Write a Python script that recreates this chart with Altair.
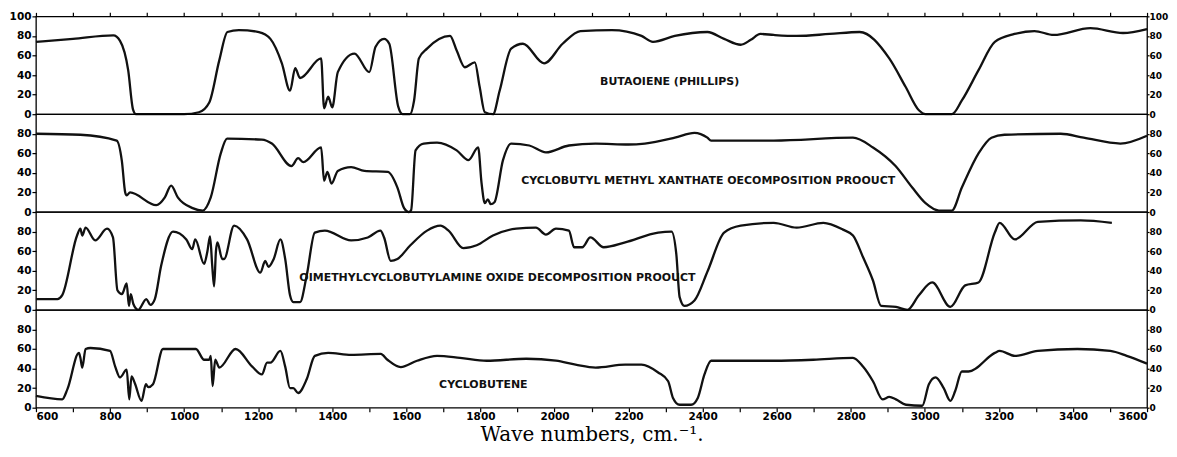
import altair as alt
import pandas as pd

# ---------------- data ----------------
bd_wave = [600, 700, 809, 827, 849, 862, 870, 1000, 1040, 1068, 1095, 1117, 1148, 1202, 1233, 1264,
           1286, 1300, 1313, 1370, 1378, 1389, 1400, 1415, 1460, 1500, 1517, 1540, 1554, 1578, 1590,
           1610, 1621, 1634, 1656, 1718, 1736, 1758, 1785, 1798, 1812, 1834, 1852, 1883, 1915, 1972,
           2022, 2070, 2155, 2235, 2266, 2325, 2413, 2458, 2503, 2530, 2556, 2592, 2654, 2743, 2824,
           2904, 2948, 2984, 3002, 3073, 3100, 3145, 3189, 3242, 3296, 3348, 3447, 3535, 3600]
bd_val = [74, 77, 80.5, 75, 45, 5, 0, 0, 2, 12, 55, 84, 86, 84, 77, 52,
          24, 47, 37, 57, 6, 18, 7, 43, 62, 43, 69, 77, 72, 8, 0,
          0, 14, 57, 67, 80, 65, 48, 53, 28, 2, 0, 24, 67, 72, 52,
          72, 85, 86, 80, 74, 80, 84, 77, 71, 76, 82, 81, 80, 82, 84,
          57, 28, 4, 0, 0, 14, 45, 74, 82, 85, 81, 88, 83, 87]

xa_wave = [600, 720, 818, 832, 841, 845, 854, 925, 948, 965, 983, 1023, 1050, 1072, 1099, 1116,
           1210, 1237, 1290, 1308, 1322, 1370, 1378, 1387, 1398, 1415, 1451, 1487, 1550, 1576, 1594,
           1607, 1613, 1625, 1647, 1683, 1736, 1768, 1794, 1803, 1812, 1820, 1828, 1838, 1861, 1883,
           1932, 1977, 2039, 2111, 2200, 2244, 2325, 2378, 2413, 2423, 2592, 2806, 2860, 2921, 2966,
           3002, 3038, 3073, 3100, 3145, 3180, 3215, 3367, 3429, 3528, 3600]
xa_val = [80, 79, 73, 52, 20, 17, 20, 7, 15, 27, 15, 4, 1.5, 15, 60, 75,
          74, 70, 47, 55, 51, 66, 32, 41, 29, 42, 46, 42, 41, 25, 4,
          0, 2, 63, 70, 71, 63, 53, 66, 30, 9, 13, 8, 10, 53, 70,
          68, 61, 68, 70, 69, 70, 76, 81, 76, 73, 73, 76, 66, 47, 25,
          9, 1.5, 1.5, 25, 60, 76, 79, 80, 76, 70, 78]

dm_wave = [600, 658, 671, 711, 720, 725, 734, 760, 792, 808, 820, 832, 845, 851, 856, 863, 876,
           898, 909, 921, 938, 970, 1006, 1022, 1030, 1054, 1063, 1070, 1076, 1081, 1086, 1090,
           1103, 1108, 1135, 1170, 1206, 1219, 1228, 1242, 1260, 1273, 1286, 1295, 1313, 1331,
           1353, 1380, 1451, 1496, 1530, 1540, 1558, 1576, 1611, 1656, 1692, 1714, 1754, 1790,
           1834, 1897, 1950, 1977, 2004, 2039, 2053, 2075, 2097, 2133, 2191, 2280, 2316, 2329,
           2338, 2351, 2378, 2414, 2458, 2503, 2592, 2654, 2726, 2779, 2806, 2833, 2860, 2882,
           2922, 2953, 2984, 3020, 3069, 3109, 3145, 3189, 3202, 3243, 3305, 3421, 3505]
dm_val = [11, 11, 15, 76, 83, 76, 84, 71, 83, 74, 20, 16, 27, 4, 16, 6, 0,
          11, 5, 11, 45, 80, 72, 62, 72, 47, 60, 75, 45, 24, 60, 69,
          52, 52, 86, 72, 38, 50, 44, 52, 72, 52, 15, 8, 8, 35,
          79, 81, 71, 74, 81, 74, 50, 52, 66, 81, 86, 81, 63, 66,
          76, 83, 84, 77, 83, 81, 64, 64, 74, 64, 69, 79, 80, 57,
          13, 4, 9.5, 40, 79, 86, 89, 84, 89, 82, 76, 54, 30, 4,
          3, 0, 15, 28, 3, 25, 28, 79, 89, 72, 90, 91.5, 89]

cb_wave = [600, 671, 685, 716, 720, 725, 734, 747, 800, 814, 827, 845, 852, 858, 867, 885, 897,
           903, 916, 943, 1032, 1054, 1068, 1072, 1077, 1084, 1095, 1139, 1184, 1210, 1224, 1233,
           1260, 1273, 1286, 1295, 1308, 1331, 1353, 1389, 1451, 1531, 1549, 1585, 1629, 1683,
           1745, 1817, 1924, 2004, 2057, 2111, 2191, 2235, 2280, 2307, 2320, 2338, 2369, 2387,
           2405, 2423, 2503, 2592, 2699, 2806, 2833, 2860, 2886, 2904, 2922, 2949, 2993, 3011,
           3029, 3051, 3069, 3082, 3100, 3118, 3189, 3202, 3243, 3305, 3412, 3501, 3545, 3600]
cb_val = [12, 8.5, 19, 56, 51, 41, 60, 61, 58, 42, 31, 39, 8.5, 32, 25, 7, 24,
          21, 24, 60, 60, 49, 49, 53, 22, 49, 41, 60, 42, 34, 46, 46,
          58, 42, 20, 20, 15, 29, 53, 56, 54, 55, 49, 41.5, 48, 53,
          51, 48, 50, 48, 44, 41, 44, 44, 36, 27, 10, 3, 3, 10,
          34, 48, 48, 48, 49, 51, 42, 27, 8.5, 11, 8.5, 3, 2, 24,
          31, 20, 7, 17, 37, 37, 56, 58, 53, 58, 60, 58, 53, 45]

labels = ["BUTAOIENE (PHILLIPS)",
          "CYCLOBUTYL METHYL XANTHATE OECOMPOSITION PROOUCT",
          "OIMETHYLCYCLOBUTYLAMINE OXIDE DECOMPOSITION PROOUCT",
          "CYCLOBUTENE"]
label_wave = [2311, 2415, 1846, 1808]
label_val = [33, 32, 33, 23]

x_ticks = list(range(600, 3601, 100))
y_ticks_top = [0, 20, 40, 60, 80, 100]
y_ticks = [0, 20, 40, 60, 80]
x_title = "Wave numbers, cm.\u207b\u00b9."

# ---------------- chart ----------------
W = 1113
H = 98
LABEL_FONT = "DejaVu Sans"
xscale = alt.Scale(domain=[600, 3600], nice=False, zero=False)
yscale = alt.Scale(domain=[0, 100], nice=False, zero=True)


def panel(waves, vals, idx, yvals, top=False, bottom=False):
    df = pd.DataFrame({"wave": waves, "T": vals})
    ann = pd.DataFrame({"wave": [label_wave[idx]], "T": [label_val[idx]], "text": [labels[idx]]})

    if bottom:
        xaxis = alt.Axis(orient="bottom", values=x_ticks, format="d",
                         labelExpr="datum.value % 200 == 0 ? datum.label : ''",
                         tickSize=4, tickWidth=1.2, tickColor="black", domain=False, grid=False,
                         labelFont=LABEL_FONT, labelFontWeight="bold", labelFontSize=10.5,
                         labelColor="black", labelPadding=0, labelOverlap=False,
                         title=x_title, titleFont="DejaVu Serif", titleFontSize=20,
                         titleFontWeight="normal", titleColor="black", titlePadding=2)
    else:
        xaxis = None
    if top:
        xaxis_top = alt.Axis(orient="top", values=x_ticks, labels=False, tickSize=4,
                             tickWidth=1.2, tickColor="black", domain=False, grid=False, title=None)
    else:
        xaxis_top = None

    yleft = alt.Axis(orient="left", values=yvals, tickSize=4, tickWidth=1.2, tickColor="black",
                     domain=False, grid=False, labelFont=LABEL_FONT, labelFontWeight="bold",
                     labelFontSize=10.5, labelColor="black", labelPadding=1, title=None,
                     labelOverlap=False)
    yright = alt.Axis(orient="right", values=yvals, tickSize=2, tickWidth=1.2, tickColor="black",
                      domain=False, grid=False, labelFont=LABEL_FONT, labelFontWeight="bold",
                      labelFontSize=9, labelColor="black", labelPadding=0, title=None,
                      labelOverlap=False)

    line = alt.Chart(df).mark_line(color="#111", strokeWidth=2.3, interpolate="monotone").encode(
        x=alt.X("wave:Q", scale=xscale, axis=xaxis),
        y=alt.Y("T:Q", scale=yscale, axis=yleft),
    )
    text = alt.Chart(ann).mark_text(font=LABEL_FONT, fontWeight="bold", fontSize=11,
                                    color="#111").encode(
        x=alt.X("wave:Q", scale=xscale, axis=xaxis_top),
        y=alt.Y("T:Q", scale=yscale, axis=yright),
        text="text:N",
    )
    return alt.layer(line, text).resolve_axis(y="independent", x="independent").properties(
        width=W, height=H)


p1 = panel(bd_wave, bd_val, 0, y_ticks_top, top=True)
p2 = panel(xa_wave, xa_val, 1, y_ticks)
p3 = panel(dm_wave, dm_val, 2, y_ticks)
p4 = panel(cb_wave, cb_val, 3, y_ticks, bottom=True)

chart = alt.vconcat(p1, p2, p3, p4, spacing=0, bounds="flush").properties(
    padding={"left": 0, "top": 2, "right": 0, "bottom": 0},
    background="white",
).configure_view(stroke="black", strokeWidth=1.3)

chart.save("out.html", embed_options={"renderer": "svg", "actions": False})
